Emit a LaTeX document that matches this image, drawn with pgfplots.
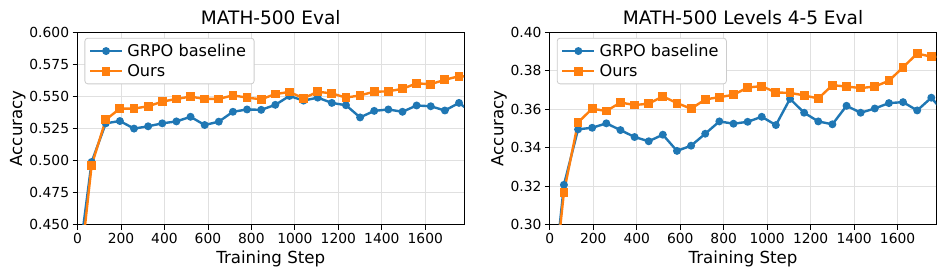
\documentclass[border=0pt]{standalone}
\usepackage{pgfplots}
\usepackage{pgfplotstable}
\pgfplotsset{compat=1.18}
\usepackage{fontspec}
\setmainfont{DejaVu Sans}
\definecolor{tabblue}{HTML}{1F77B4}
\definecolor{taborange}{HTML}{FF7F0E}

\pgfplotstableread{
x blue orange
0 0.414 0.396
65 0.4988 0.4962
130 0.5289 0.5317
195 0.5307 0.5404
260 0.5248 0.5404
325 0.5266 0.5422
390 0.5289 0.5458
455 0.5304 0.5479
520 0.5340 0.5497
585 0.5276 0.5479
650 0.5302 0.5479
715 0.5379 0.5507
780 0.5397 0.5489
845 0.5394 0.5476
910 0.5433 0.5517
975 0.5502 0.5533
1040 0.5466 0.5484
1105 0.5489 0.5535
1170 0.5448 0.5522
1235 0.5430 0.5489
1300 0.5335 0.5507
1365 0.5386 0.5535
1430 0.5397 0.5538
1495 0.5379 0.5558
1560 0.5428 0.5600
1625 0.5422 0.5594
1690 0.5389 0.5628
1755 0.5448 0.5656
1820 0.5366 0.5650
}\leftdata

\pgfplotstableread{
x blue orange
0 0.250 0.248
65 0.3207 0.3169
130 0.3495 0.3531
195 0.3503 0.3602
260 0.3526 0.3590
325 0.3491 0.3634
390 0.3455 0.3621
455 0.3433 0.3628
520 0.3467 0.3666
585 0.3383 0.3631
650 0.3410 0.3602
715 0.3472 0.3650
780 0.3536 0.3662
845 0.3524 0.3674
910 0.3534 0.3712
975 0.3560 0.3719
1040 0.3517 0.3686
1105 0.3653 0.3684
1170 0.3581 0.3671
1235 0.3536 0.3655
1300 0.3521 0.3724
1365 0.3617 0.3717
1430 0.3581 0.3709
1495 0.3603 0.3717
1560 0.3631 0.3747
1625 0.3636 0.3817
1690 0.3593 0.3888
1755 0.3659 0.3872
1820 0.3574 0.3870
}\rightdata

\pgfplotsset{
  mystyle/.style={
    scale only axis,
    width=386.5bp, height=192.7bp,
    anchor=south west,
    xmin=0, xmax=1778,
    xtick={0,200,...,1600},
    xtick pos=bottom, ytick pos=left,
    grid=major,
    grid style={black!12, line width=0.8bp},
    tick align=outside,
    major tick length=4.9bp,
    tick style={black, line width=0.8bp},
    axis line style={line width=0.8bp},
    ticklabel style={font=\fontsize{13.9}{16}\selectfont},
    /pgf/number format/assume math mode=true,
    /pgf/number format/1000 sep={},
    label style={font=\fontsize{16.7}{19}\selectfont},
    ylabel style={yshift=-3bp},
    title style={font=\fontsize{18.6}{21}\selectfont, yshift=-2bp},
    xlabel={Training Step},
    ylabel={Accuracy},
    legend style={at={(0.018,0.97)}, anchor=north west,
      font=\fontsize{16.2}{19}\selectfont,
      draw=black!20, line width=0.8bp, rounded corners=3bp,
      inner xsep=4bp, inner ysep=4bp, row sep=2.5bp,
      nodes={inner xsep=4bp}},
    legend cell align=left,
    legend image code/.code={
      \draw[#1, mark repeat=2, mark phase=2] plot coordinates {(0bp,0bp) (16bp,0bp) (32bp,0bp)};
    },
  },
  blueline/.style={color=tabblue, line width=2.4bp, mark=*, mark size=2.7bp, mark options={solid, fill=tabblue, draw=tabblue}},
  orangeline/.style={color=taborange, line width=2.4bp, mark=square*, mark size=3.2bp, mark options={solid, fill=taborange, draw=taborange}},
}

\begin{document}
\begin{tikzpicture}
\useasboundingbox (0bp,0bp) rectangle (946bp,278bp);
\begin{axis}[mystyle, at={(77.5bp,53.3bp)},
  title={MATH-500 Eval},
  ymin=0.45, ymax=0.6,
  ytick={0.45,0.475,...,0.6001},
  yticklabel style={/pgf/number format/.cd, fixed, fixed zerofill, precision=3},
]
\addplot[blueline] table[x=x, y=blue] {\leftdata};
\addlegendentry{GRPO baseline}
\addplot[orangeline] table[x=x, y=orange] {\leftdata};
\addlegendentry{Ours}
\end{axis}
\begin{axis}[mystyle, at={(549.8bp,53.3bp)},
  title={MATH-500 Levels 4-5 Eval},
  ymin=0.30, ymax=0.40,
  ytick={0.30,0.32,0.34,0.36,0.38,0.40},
  yticklabel style={/pgf/number format/.cd, fixed, fixed zerofill, precision=2},
]
\addplot[blueline] table[x=x, y=blue] {\rightdata};
\addlegendentry{GRPO baseline}
\addplot[orangeline] table[x=x, y=orange] {\rightdata};
\addlegendentry{Ours}
\end{axis}
\end{tikzpicture}
\end{document}
